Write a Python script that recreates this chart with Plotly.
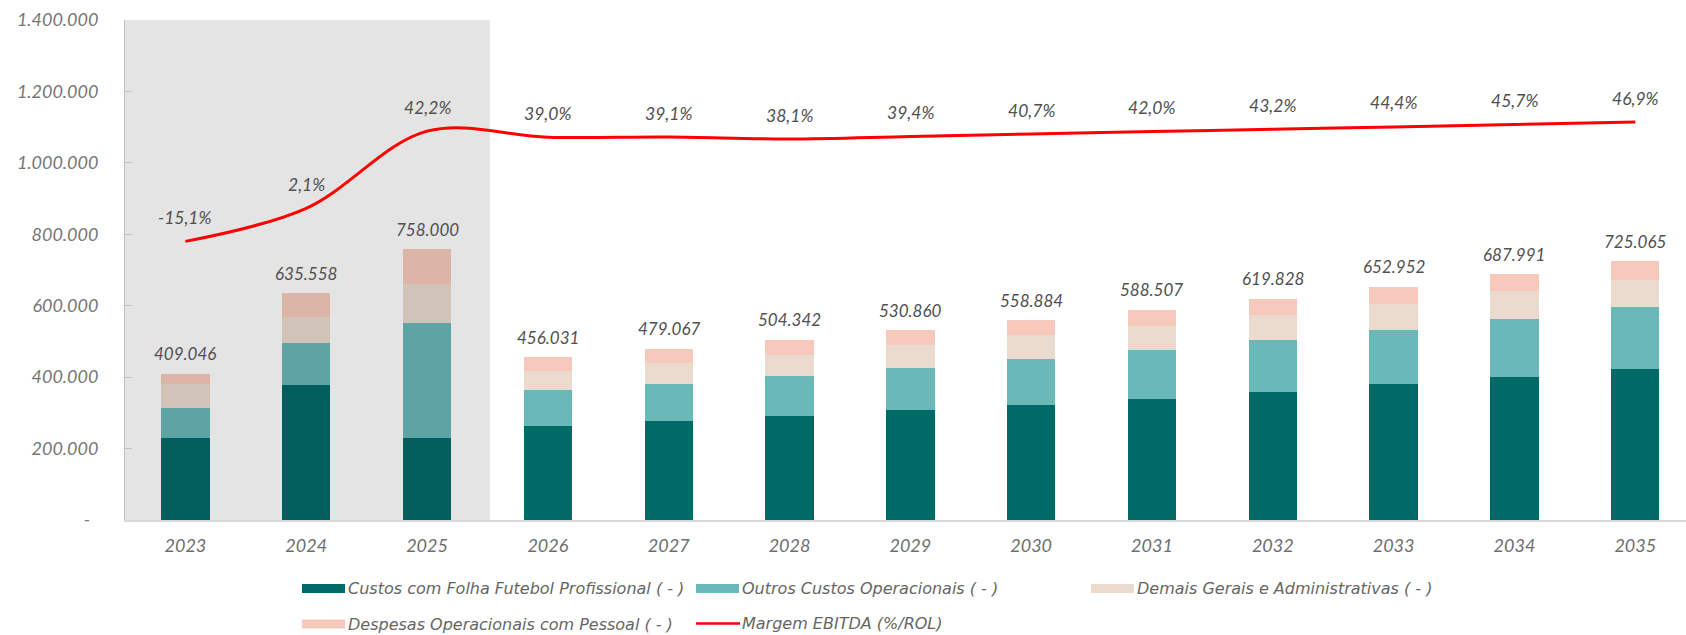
import plotly.graph_objects as go

# ---------------- data ----------------
years = ["2023", "2024", "2025", "2026", "2027", "2028", "2029",
         "2030", "2031", "2032", "2033", "2034", "2035"]

folha_futebol = [230500, 377200, 230500, 262400, 276400, 290400, 308000,
                 321200, 339700, 358400, 380800, 400400, 422900]
outros_custos = [82300, 118500, 320300, 100800, 104400, 113700, 118500,
                 128800, 137200, 145700, 151300, 163300, 172700]
demais_gerais = [68900, 71900, 109200, 54900, 58900, 58800, 63600,
                 67200, 67200, 69100, 71900, 76700, 77300]
despesas_pessoal = [27300, 68000, 98000, 37900, 39400, 41400, 40800,
                    41700, 44400, 46600, 49000, 47600, 52200]

totais = [409046, 635558, 758000, 456031, 479067, 504342, 530860,
          558884, 588507, 619828, 652952, 687991, 725065]

margem_ebitda = [-15.1, 2.1, 42.2, 39.0, 39.1, 38.1, 39.4,
                 40.7, 42.0, 43.2, 44.4, 45.7, 46.9]

y_ticks = [0, 200000, 400000, 600000, 800000, 1000000, 1200000, 1400000]

series_names = ["Custos com Folha Futebol Profissional ( - )",
                "Outros Custos Operacionais ( - )",
                "Demais Gerais e Administrativas ( - )",
                "Despesas Operacionais com Pessoal ( - )"]
line_name = "Margem EBITDA (%/ROL)"

n_hist = 3  # historical (shaded) years

# ---------------- styles ----------------
FONT = "Lato"
LEG_FONT = "DejaVu Sans"
colors = ["#006A67", "#6AB8B7", "#EBDACE", "#F6C9BC"]
shade_factor = 0.894
LABEL_COLOR = "#505050"


def darken(hex_color, f):
    h = hex_color.lstrip("#")
    r, g, b = (int(h[i:i + 2], 16) for i in (0, 2, 4))
    return "#%02X%02X%02X" % (round(r * f), round(g * f), round(b * f))


def fmt_thousands(v):
    return f"{v:,}".replace(",", ".")


def fmt_pct(v):
    return f"{v:.1f}".replace(".", ",") + "%"


fig = go.Figure()

for name, vals, col in zip(series_names,
                           [folha_futebol, outros_custos, demais_gerais, despesas_pessoal],
                           colors):
    bar_colors = [darken(col, shade_factor) if i < n_hist else col for i in range(len(years))]
    fig.add_trace(go.Bar(
        x=years, y=vals, name=name, width=0.4,
        marker=dict(color=bar_colors, line=dict(width=0)),
        showlegend=False,
    ))

fig.add_trace(go.Scatter(
    x=years, y=[m / 100 for m in margem_ebitda], yaxis="y2", name=line_name,
    mode="lines", line=dict(color="#FF0000", width=3, shape="spline", smoothing=1.0),
    showlegend=False,
))

annotations = []
for i, t in enumerate(totais):
    annotations.append(dict(
        x=i, y=t, xref="x", yref="y", text=fmt_thousands(t), showarrow=False,
        yshift=20, yanchor="middle", xanchor="center",
        font=dict(family=FONT, size=17, color=LABEL_COLOR, style="italic"),
    ))
for i, m in enumerate(margem_ebitda):
    annotations.append(dict(
        x=i, y=m / 100, xref="x", yref="y2", text=fmt_pct(m), showarrow=False,
        yshift=24, yanchor="middle", xanchor="center",
        font=dict(family=FONT, size=17.5, color=LABEL_COLOR, style="italic"),
    ))

# ---------------- manual legend (pixel layout) ----------------
W, H = 1686, 635
ML, MR, MT, MB = 125, 0, 20, 115
PW, PH = W - ML - MR, H - MT - MB


def xp(px):
    return (px - ML) / PW


def yp(py):
    return (MT + PH - py) / PH


shapes = [dict(type="rect", xref="x", yref="paper", x0=-0.5, x1=2.52, y0=0, y1=1,
               fillcolor="#E4E4E4", line=dict(width=0), layer="below")]

legend_items = [
    ("rect", colors[0], 302, 588.5, series_names[0]),
    ("rect", colors[1], 696, 588.5, series_names[1]),
    ("rect", colors[2], 1091, 588.5, series_names[2]),
    ("rect", colors[3], 302, 624, series_names[3]),
    ("line", "#FF0000", 696, 623.5, line_name),
]
for kind, col, x0, yc, label in legend_items:
    if kind == "rect":
        shapes.append(dict(type="rect", xref="paper", yref="paper",
                           x0=xp(x0), x1=xp(x0 + 43), y0=yp(yc + 4.5), y1=yp(yc - 4.5),
                           fillcolor=col, line=dict(width=0)))
    else:
        shapes.append(dict(type="line", xref="paper", yref="paper",
                           x0=xp(x0), x1=xp(x0 + 44), y0=yp(yc), y1=yp(yc),
                           line=dict(color=col, width=2.5)))
    annotations.append(dict(
        x=xp(x0 + 44), y=yp(yc), xref="paper", yref="paper", text=label,
        showarrow=False, xanchor="left", yanchor="middle",
        font=dict(family=LEG_FONT, size=16, color="#666666", style="italic"),
    ))

tick_text = ["-\u00a0\u00a0"] + [fmt_thousands(v) for v in y_ticks[1:]]

fig.update_layout(
    width=W, height=H,
    margin=dict(l=ML, r=MR, t=MT, b=MB),
    paper_bgcolor="white", plot_bgcolor="white",
    barmode="stack",
    font=dict(family=FONT, style="italic"),
    xaxis=dict(type="category", range=[-0.5, 12.42], showline=True, linecolor="#D9D9D9",
               linewidth=2, ticks="", showgrid=False, zeroline=False,
               tickfont=dict(family=FONT, size=18, color="#6E6E6E", style="italic"),
               ticklabelstandoff=8),
    yaxis=dict(range=[0, 1400000], tickvals=y_ticks, ticktext=tick_text,
               showgrid=False, zeroline=False, showline=True, linecolor="#BFBFBF",
               linewidth=1, ticks="inside", ticklen=7, tickcolor="#BFBFBF",
               tickfont=dict(family=FONT, size=18, color="#767676", style="italic"),
               ticklabelstandoff=22),
    yaxis2=dict(overlaying="y", range=[-1.6, 1.0], visible=False),
    shapes=shapes,
    annotations=annotations,
    showlegend=False,
)

fig.write_html("out.html", config={"displayModeBar": False},
               post_script="document.body.style.margin='0';document.body.style.overflow='hidden';")
